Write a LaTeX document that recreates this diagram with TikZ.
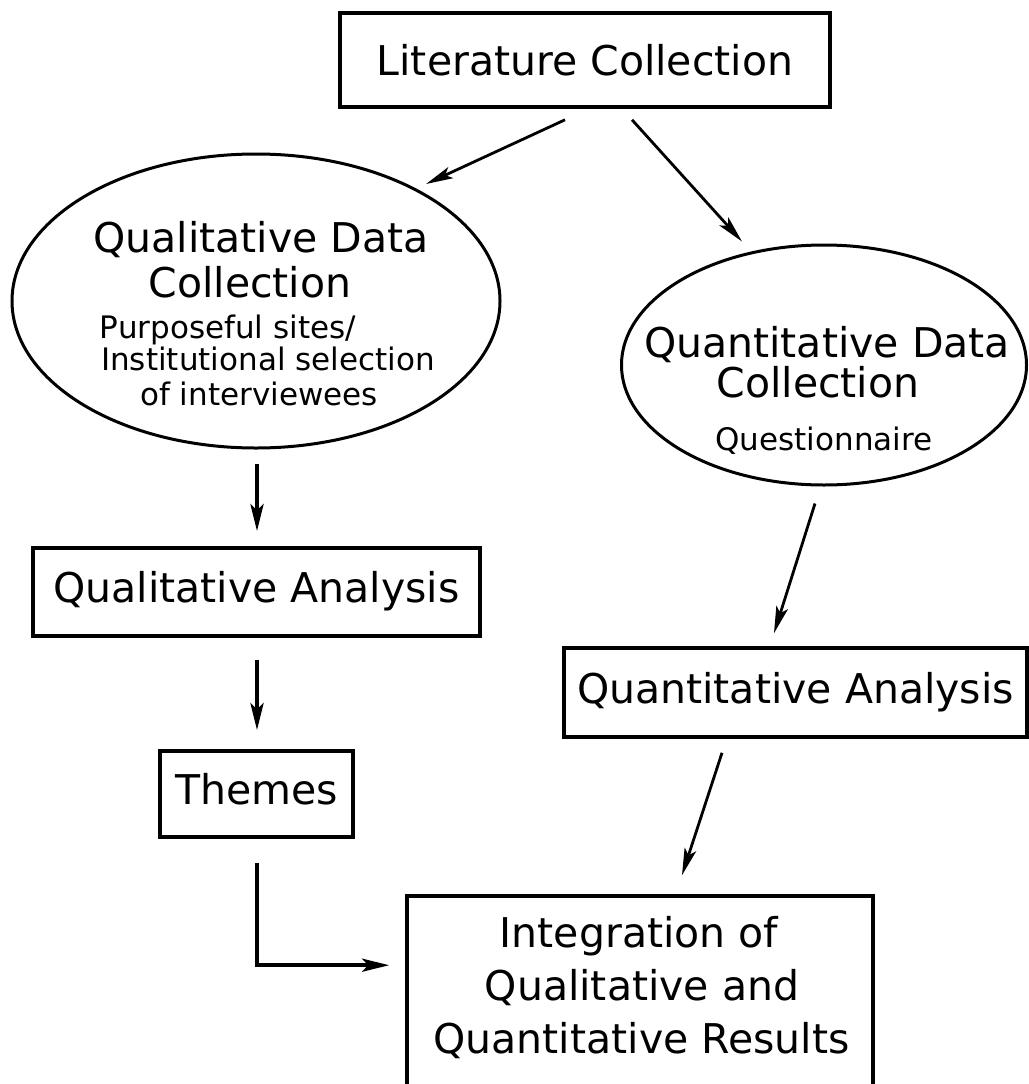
\documentclass[tikz,border=0pt]{standalone}
\usepackage{fontspec}
\setmainfont{DejaVu Sans}
\usetikzlibrary{arrows.meta,calc,shapes.geometric}
\begin{document}
\begin{tikzpicture}[x=1pt,y=-1pt,
  box/.style={draw, line width=3.6pt, rectangle, inner sep=0pt, font=\fontsize{41}{45}\selectfont, text height=31pt, text depth=10pt},
  oval/.style={draw, line width=3pt, ellipse, inner sep=0pt},
  bigtext/.style={inner sep=0pt, anchor=base, font=\fontsize{41}{45}\selectfont},
  smalltext/.style={inner sep=0pt, anchor=base, font=\fontsize{31}{34}\selectfont},
  arr/.style={line width=2.8pt, -{Stealth[length=27pt,width=12pt,inset=6pt]}},
  arrthick/.style={line width=4pt, -{Stealth[length=27pt,width=13pt,inset=6pt]}}
]
\useasboundingbox (0,0) rectangle (1028,1084);

% boxes
\node[box, minimum width=490pt, minimum height=94pt, text depth=1pt] (lit) at (585,60) {Literature Collection};
\node[box, minimum width=447pt, minimum height=88pt] (qualan) at (256.5,592) {Qualitative Analysis};
\node[box, minimum width=193pt, minimum height=86pt] (themes) at (256.5,794) {Themes};
\node[box, minimum width=463pt, minimum height=89pt] (quantan) at (795.5,692.5) {Quantitative Analysis};
\node[box, minimum width=466pt, minimum height=204pt] (integ) at (640,998) {};

% ellipses
\node[oval, minimum width=488pt, minimum height=294pt] (qualdc) at (256,301) {};
\node[oval, minimum width=405pt, minimum height=240pt] (quantdc) at (824,365) {};

% ellipse texts
\node[bigtext] (qd1) at (261,252) {Qualitative Data};
\node[bigtext] (qd2) at (250,297) {Collection};
\node[smalltext] (qd3) at (228,338) {Purposeful sites/};
\node[smalltext] (qd4) at (268,370) {Institutional selection};
\node[smalltext] (qd5) at (259,405) {of interviewees};

\node[bigtext] (nd1) at (827,357) {Quantitative Data};
\node[bigtext] (nd2) at (818,397) {Collection};
\node[smalltext] (nd3) at (824,450) {Questionnaire};

% integration texts
\node[bigtext] (it1) at (639,947) {Integration of};
\node[bigtext] (it2) at (642,1000) {Qualitative and};
\node[bigtext] (it3) at (641.5,1053) {Quantitative Results};

% connectors
\draw[arr] ($(lit.south)+(-20,11)$) -- ($(qualdc.north east)+(-3.5,-12)$);
\draw[arr] ($(lit.south)+(47,11)$) -- ($(quantdc.north)+(-82,-2)$);
\draw[arrthick] ($(qualdc.south)+(1,14)$) -- ($(qualan.north)+(0.5,-15)$);
\draw[arrthick] ($(qualan.south)+(0.5,22)$) -- ($(themes.north)+(0.5,-19)$);
\draw[arrthick] ($(themes.south)+(0.5,24)$) |- ($(integ.north west)+(-16,71)$);
\draw[arr] ($(quantdc.south)+(-9,17)$) -- ($(quantan.north)+(-21.5,-13)$);
\draw[arr] ($(quantan.south)+(-73.5,14)$) -- ($(integ.north)+(42,-19)$);
\end{tikzpicture}
\end{document}
